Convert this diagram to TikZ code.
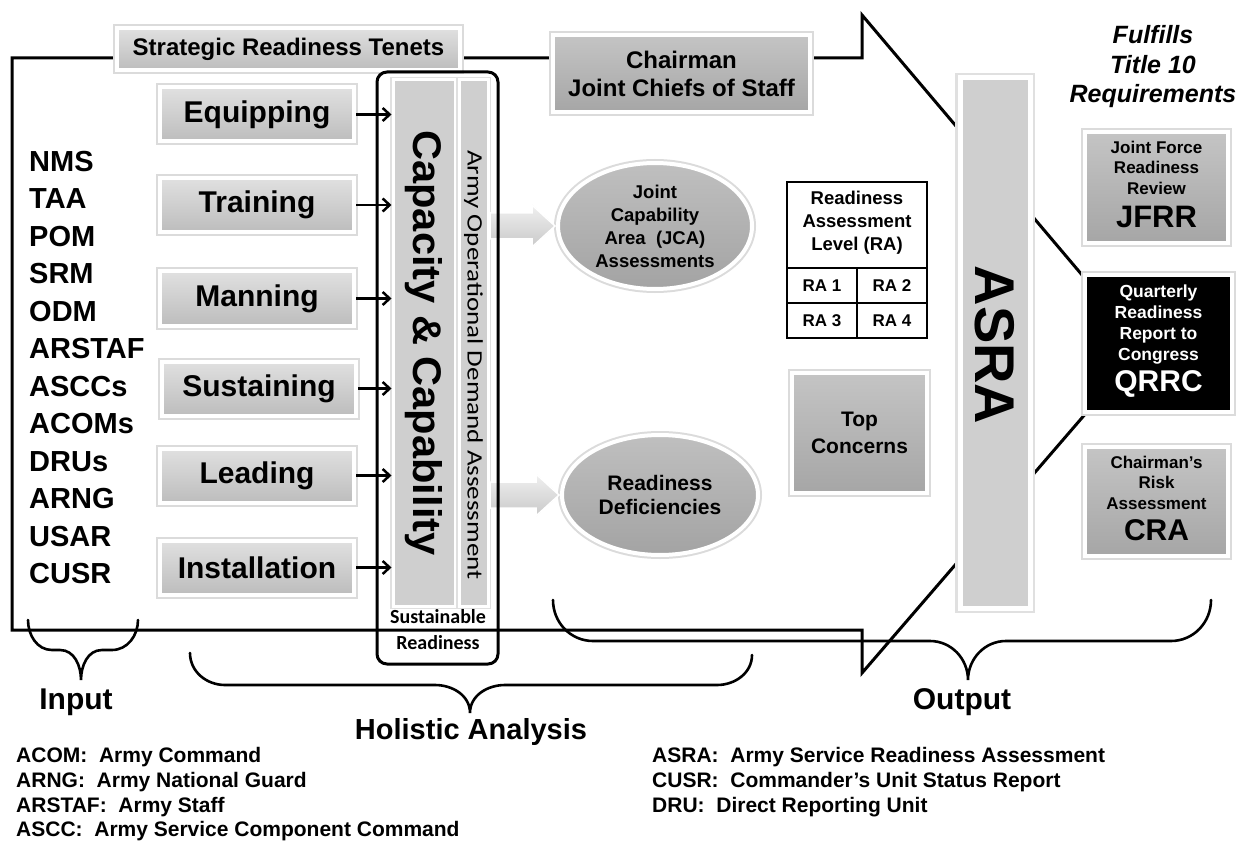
\documentclass[tikz,border=0pt]{standalone}
\usepackage{fontspec}
\setmainfont{Liberation Sans}
\newfontfamily\calfont{Carlito}
\usetikzlibrary{arrows.meta,shapes.geometric,calc}
\newcommand{\fsz}[2]{\fontsize{#1pt}{#2pt}\selectfont}
\begin{document}
\begin{tikzpicture}[x=1pt,y=-1pt,
  lbox/.style={rectangle, inner sep=0pt, draw=white, line width=4pt,
    preaction={draw=black!14, line width=8pt},
    top color=gray!24, bottom color=gray!52, font=\bfseries},
  dbox/.style={lbox, top color=gray!46, bottom color=gray!70},
  pill/.style={lbox, minimum width=194pt, minimum height=54pt, font=\bfseries\fsz{30}{30}},
  bar/.style={rectangle, inner sep=0pt, draw=white, line width=3pt,
    preaction={draw=black!12, line width=6pt}, fill=gray!38},
  ell/.style={ellipse, inner sep=0pt, draw=white, line width=4pt,
    preaction={draw=black!14, line width=8pt},
    top color=gray!50, bottom color=gray!72, align=center},
  darr/.style={draw=white, line width=1.5pt, top color=gray!12, bottom color=gray!42},
  arr/.style={line width=2.5pt, -{Straight Barb[length=7pt,width=13pt]}},
  brace/.style={line width=2.6pt, line cap=round},
  legend/.style={anchor=west, inner sep=0pt, font=\bfseries\fsz{21}{25}},
  big/.style={font=\bfseries\fsz{30}{30}}
]
\useasboundingbox (0,0) rectangle (1239,842);
\fill[white] (0,0) rectangle (1239,842);

% big arrow outline
\draw[line width=3pt, line join=miter, miter limit=10]
  (12,630) -- (12,58) -- (862,58) -- (862,15) -- (1143,347) -- (862,673) -- (862,630) -- cycle;

% braces
\draw[brace] (28,620) to[out=-90,in=180] (52,650) -- (60,650) to[out=0,in=90] (81,680)
  to[out=90,in=180] (102,650) -- (112,650) to[out=0,in=-90] (138,620);
\draw[brace] (190,653) to[out=-90,in=180] (225,685) -- (435,685) to[out=0,in=90] (470,713)
  to[out=90,in=180] (505,685) -- (717,685) to[out=0,in=-90] (752,655);
\draw[brace] (553,600) to[out=-90,in=180] (593,641) -- (930,641) to[out=0,in=90] (968,680)
  to[out=90,in=180] (1006,641) -- (1171,641) to[out=0,in=-90] (1211,600);

% top boxes
\node[lbox, minimum width=343pt, minimum height=42pt, font=\bfseries\fsz{24}{24}] (srt) at (288.5,49) {Strategic Readiness Tenets};
\node[dbox, minimum width=257pt, minimum height=77pt, align=center, font=\bfseries\fsz{24}{28}] (cjcs) at (681.5,73.5) {Chairman\\Joint Chiefs of Staff};

\node[align=center, font=\bfseries\itshape\fsz{25}{29.5}] (ful) at (1153,67) {Fulfills\\Title 10\\Requirements};

% input list
\node[anchor=west, align=left, inner sep=0pt, font=\bfseries\fsz{29}{37.5}] (inputs) at (29,367.5)
  {NMS\\TAA\\POM\\SRM\\ODM\\ARSTAF\\ASCCs\\ACOMs\\DRUs\\ARNG\\USAR\\CUSR};

% capacity bars
\node[bar, minimum width=62pt, minimum height=526pt] (capbar) at (424,343) {};
\node[bar, minimum width=29pt, minimum height=526pt] (aodabar) at (473.5,343) {};
\node[rotate=-90, font=\bfseries\fsz{40}{40}] (captext) at (capbar.center) {\scalebox{1.04}[1]{Capacity \& Capability}};
\node[rotate=-90, font=\calfont\fsz{22}{22}] (aodatext) at (473.5,365) {\scalebox{1.23}[1]{Army Operational Demand Assessment}};

% pills
\node[pill] (equip) at (257,114.5) {Equipping};
\node[pill] (train) at (257,205) {Training};
\node[pill] (man) at (257,298.5) {Manning};
\node[pill] (sust) at (259,388.5) {Sustaining};
\node[pill] (lead) at (257,475.5) {Leading};
\node[pill] (inst) at (257,567.5) {Installation};

\foreach \b in {equip,train,man,sust,lead,inst}
  \draw[arr] (\b.east) -- (\b.east -| capbar.west);

% ellipses
\node[ell, minimum width=194pt, minimum height=126pt, font=\bfseries\fsz{18.5}{23}] (jca) at (655,226)
  {Joint\\Capability\\Area~~(JCA)\\Assessments};
\node[ell, minimum width=196pt, minimum height=120pt, font=\bfseries\fsz{21}{24}] (rd) at (660,495)
  {Readiness\\Deficiencies};

% double arrows
\filldraw[darr] (jca.west) ++(-1,0) -- ++(-23,-21) -- ++(0,8) -- ++(-42,0) -- ++(0,26) -- ++(42,0) -- ++(0,8) -- cycle;
\filldraw[darr] (rd.west) ++(-1,0) -- ++(-23,-21) -- ++(0,8) -- ++(-46,0) -- ++(0,26) -- ++(46,0) -- ++(0,8) -- cycle;

% container
\draw[line width=3pt, rounded corners=10pt] (377,72) rectangle (498,664);
\node[font=\calfont\bfseries\fsz{20}{20}] (sus1) at (438,617) {Sustainable};
\node[font=\calfont\bfseries\fsz{20}{20}] (sus2) at (438,643) {Readiness};

% table
\node[draw, line width=2.5pt, minimum width=140pt, minimum height=156pt, inner sep=0pt] (tbl) at (857,260) {};
\draw[line width=2pt] (787,268) -- (927,268);
\draw[line width=2pt] (787,303) -- (927,303);
\draw[line width=2pt] (857,268) -- (857,338);
\node[align=center, font=\bfseries\fsz{18.5}{23}] (tblh) at (857,223) {Readiness\\Assessment\\Level (RA)};
\node[font=\bfseries\fsz{17}{17}] (ra1) at (822,286) {RA 1};
\node[font=\bfseries\fsz{17}{17}] (ra2) at (892,286) {RA 2};
\node[font=\bfseries\fsz{17}{17}] (ra3) at (822,321) {RA 3};
\node[font=\bfseries\fsz{17}{17}] (ra4) at (892,321) {RA 4};

% top concerns
\node[dbox, minimum width=135pt, minimum height=120pt, align=center, font=\bfseries\fsz{21}{27}] (top) at (859.5,433) {Top\\Concerns};

% ASRA
\node[bar, line width=5pt, preaction={draw=black!12, line width=10pt}, minimum width=70pt, minimum height=530pt] (asra) at (995,343) {};
\node[rotate=-90, font=\bfseries\fsz{56}{56}] (asratext) at (995,345) {ASRA};

% right boxes
\node[dbox, minimum width=143pt, minimum height=111pt] (jfrr) at (1156.5,187.5) {};
\node[align=center, font=\bfseries\fsz{17}{20.5}] at ($(jfrr.center)+(0,-20)$) {Joint Force\\Readiness\\Review};
\node[font=\bfseries\fsz{31}{31}] at ($(jfrr.center)+(0,29.5)$) {JFRR};

\node[rectangle, inner sep=0pt, draw=white, line width=4pt, preaction={draw=black!14, line width=8pt}, fill=black,
  minimum width=147pt, minimum height=137pt] (qrrc) at (1158.5,343.5) {};
\node[align=center, text=white, font=\bfseries\fsz{17.5}{21}] at ($(qrrc.center)+(0,-19)$) {Quarterly\\Readiness\\Report to\\Congress};
\node[text=white, font=\bfseries\fsz{30}{30}] at ($(qrrc.center)+(0,40.5)$) {QRRC};

\node[dbox, minimum width=143pt, minimum height=109pt] (cra) at (1156.5,501.5) {};
\node[align=center, font=\bfseries\fsz{17}{20.5}] at ($(cra.center)+(0,-19)$) {Chairman's\\Risk\\Assessment};
\node[font=\bfseries\fsz{30}{30}] at ($(cra.center)+(0,28.5)$) {CRA};

% labels
\node[big] (inlab) at (76,702) {Input};
\node[font=\bfseries\fsz{29}{29}] (hollab) at (471,732) {Holistic Analysis};
\node[big] (outlab) at (962,702) {Output};

% legends
\node[legend] at (16,757) {ACOM:~~Army Command};
\node[legend] at (16,782) {ARNG:~~Army National Guard};
\node[legend] at (16,807) {ARSTAF:~~Army Staff};
\node[legend] at (16,831) {ASCC:~~Army Service Component Command};
\node[legend] at (652,757) {ASRA:~~Army Service Readiness Assessment};
\node[legend] at (652,782) {CUSR:~~Commander’s Unit Status Report};
\node[legend] at (652,807) {DRU:~~Direct Reporting Unit};
\end{tikzpicture}
\end{document}
